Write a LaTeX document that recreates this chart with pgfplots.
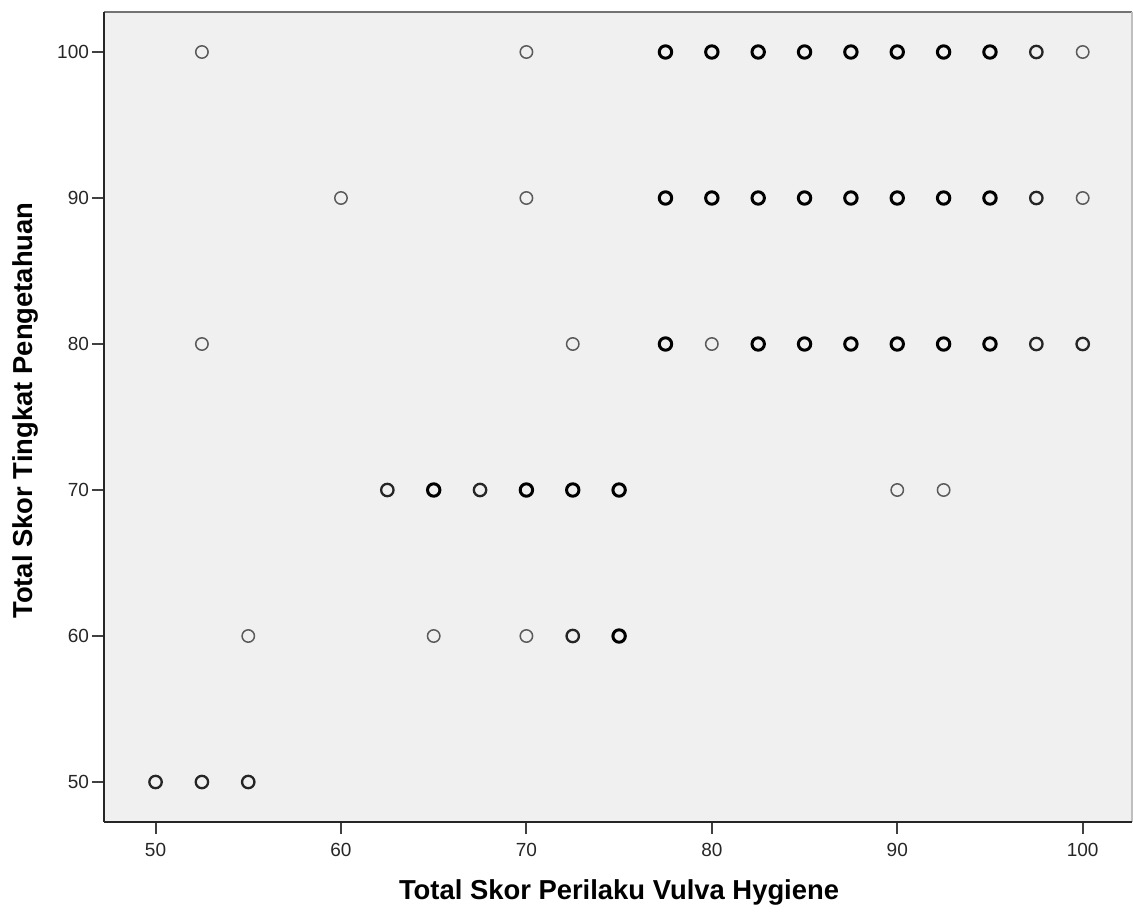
\documentclass[border=0pt]{standalone}
\usepackage{pgfplots}
\pgfplotsset{compat=1.18}
\usepackage{fontspec}
\setmainfont{Liberation Sans}
\definecolor{bgc}{HTML}{F0F0F0}
\definecolor{thinc}{HTML}{5A5A5A}
\definecolor{medc}{HTML}{252525}
\begin{document}
\begin{tikzpicture}
\begin{axis}[
  scale only axis, width=514pt, height=405pt,
  xmin=47.22, xmax=102.66, ymin=47.26, ymax=102.74,
  xtick={50,60,...,100}, ytick={50,60,...,100},
  axis background/.style={fill=bgc},
  axis line style={draw=none},
  tick align=outside, xtick pos=bottom, ytick pos=left,
  major tick length=6pt,
  tick style={draw=black!75, line width=1pt},
  /pgf/number format/assume math mode=true,
  ticklabel style={font=\fontsize{9.5}{11}\selectfont, text=black!85},
  xticklabel style={yshift=-1pt},
  yticklabel style={xshift=2pt},
  xlabel={\textbf{Total Skor Perilaku Vulva Hygiene}},
  ylabel={\textbf{Total Skor Tingkat Pengetahuan}},
  label style={font=\fontsize{13.7}{15}\selectfont},
  xlabel style={at={(rel axis cs:0.501,0)}, anchor=base, yshift=-38.5pt},
  ylabel style={at={(rel axis cs:0,0.508)}, anchor=center, rotate=0, yshift=39.5pt},
  clip=false,
]
\addplot[only marks, mark=o, mark size=3.1pt, mark options={draw=thinc, line width=0.75pt}] coordinates {
 (52.5,100) (70,100) (100,100)
 (60,90) (70,90) (100,90)
 (52.5,80) (72.5,80) (80,80)
 (90,70) (92.5,70)
 (55,60) (65,60) (70,60)
};
\addplot[only marks, mark=o, mark size=3.1pt, mark options={draw=medc, line width=1.15pt}] coordinates {
 (97.5,100) (97.5,90) (97.5,80) (100,80)
 (62.5,70) (67.5,70)
 (72.5,60)
 (50,50) (52.5,50) (55,50)
};
\addplot[only marks, mark=o, mark size=3.1pt, mark options={draw=black, line width=1.5pt}] coordinates {
 (77.5,100) (80,100) (82.5,100) (85,100) (87.5,100) (90,100) (92.5,100) (95,100)
 (77.5,90) (80,90) (82.5,90) (85,90) (87.5,90) (90,90) (92.5,90) (95,90)
 (77.5,80) (82.5,80) (85,80) (87.5,80) (90,80) (92.5,80) (95,80)
 (65,70) (70,70) (72.5,70) (75,70)
 (75,60)
};
\draw[black!55, line width=1.1pt] (rel axis cs:0,1) -- (rel axis cs:1,1);
\draw[black!25, line width=0.6pt] (rel axis cs:1,0) -- (rel axis cs:1,1);
\draw[black!85, line width=1.1pt] (rel axis cs:0,0) -- (rel axis cs:1,0);
\draw[black!85, line width=1.1pt] (rel axis cs:0,0) -- (rel axis cs:0,1);
\end{axis}
\pgfresetboundingbox
\path[use as bounding box] ([shift={(-52pt,-45.5pt)}]current axis.south west) rectangle ([shift={(0.5pt,6pt)}]current axis.north east);
\end{tikzpicture}
\end{document}
